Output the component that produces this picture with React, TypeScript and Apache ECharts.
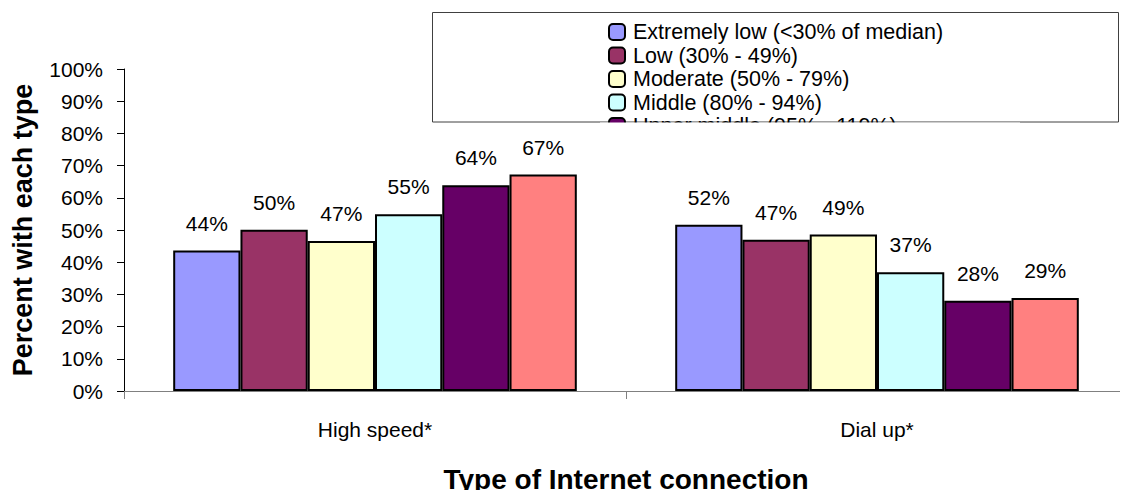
import React, { useEffect, useRef } from "react";
import * as echarts from "echarts";

const categories = ["High speed*", "Dial up*"];
const seriesNames = [
  "Extremely low (<30% of median)",
  "Low (30% - 49%)",
  "Moderate (50% - 79%)",
  "Middle (80% - 94%)",
  "Upper middle (95% - 119%)",
  "High (120% or more)",
];
const extremelyLow = [43.6, 51.6];
const low = [50.1, 47.0];
const moderate = [46.6, 48.6];
const middle = [54.9, 36.9];
const upperMiddle = [63.9, 28.0];
const high = [67.2, 28.9];
const seriesValues = [extremelyLow, low, moderate, middle, upperMiddle, high];
const colors = ["#9999FF", "#993366", "#FFFFCC", "#CCFFFF", "#660066", "#FF8080"];
const yTicks = [0, 10, 20, 30, 40, 50, 60, 70, 80, 90, 100];

const FONT = "'Liberation Sans', Arial, sans-serif";

export default function App() {
  const ref = useRef<HTMLDivElement>(null);
  useEffect(() => {
    if (!ref.current) return;
    const chart = echarts.init(ref.current, undefined, { renderer: "svg" });
    chart.setOption({
      animation: false,
      textStyle: { fontFamily: FONT },
      grid: { left: 124, right: -12, top: 69, bottom: 97.5, containLabel: false },
      legend: {
        orient: "vertical",
        left: 608,
        top: 21,
        padding: 0,
        itemWidth: 16,
        itemHeight: 16,
        itemGap: 1.5,
        itemStyle: { borderColor: "#000", borderWidth: 2 },
        textStyle: {
          fontSize: 21.5,
          lineHeight: 18,
          color: "#000",
          fontFamily: FONT,
          padding: [0, 0, 0, 3],
        },
        data: seriesNames,
        z: 5,
      },
      graphic: [
        {
          type: "rect",
          z: 1,
          shape: { x: 432.5, y: 12.5, width: 686, height: 109.5 },
          style: { fill: "#fff", stroke: "#404040", lineWidth: 1 },
        },
        {
          type: "rect",
          z: 100,
          shape: { x: 600, y: 122.6, width: 420, height: 40 },
          style: { fill: "#fff" },
        },
      ],
      xAxis: {
        type: "category",
        data: categories,
        axisLine: { show: true, lineStyle: { color: "#808080", width: 1 } },
        axisTick: { show: true, length: 8, lineStyle: { color: "#808080" } },
        axisLabel: { fontSize: 21, color: "#000", margin: 28, fontFamily: FONT },
        name: "Type of Internet connection",
        nameLocation: "middle",
        nameGap: 74,
        nameTextStyle: { fontSize: 28, fontWeight: "bold", color: "#000", fontFamily: FONT },
      },
      yAxis: {
        type: "value",
        min: 0,
        max: 100,
        interval: 10,
        axisLine: { show: true, lineStyle: { color: "#000", width: 1 } },
        axisTick: { show: true, length: 7, lineStyle: { color: "#000" } },
        splitLine: { show: false },
        axisLabel: {
          fontSize: 21,
          color: "#000",
          margin: 21,
          fontFamily: FONT,
          formatter: (v: number) => (yTicks.includes(v) ? v + "%" : ""),
        },
        name: "Percent with each type",
        nameLocation: "middle",
        nameGap: 88,
        nameTextStyle: { fontSize: 27, fontWeight: "bold", color: "#000", fontFamily: FONT },
      },
      series: seriesNames.map((name, i) => ({
        name,
        type: "bar",
        data: seriesValues[i],
        barGap: "0%",
        barCategoryGap: "19.6%",
        itemStyle: { color: colors[i], borderColor: "#000", borderWidth: 2 },
        label: {
          show: true,
          position: "top",
          distance: 17,
          fontSize: 21,
          color: "#000",
          fontFamily: FONT,
          formatter: (p: any) => Math.round(p.value) + "%",
        },
      })),
    });
    return () => chart.dispose();
  }, []);
  return <div ref={ref} style={{ width: 1128, height: 498, margin: -8 }} />;
}
